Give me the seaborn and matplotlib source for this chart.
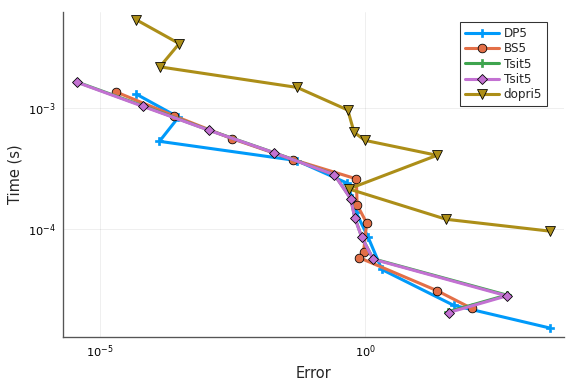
import numpy as np
import pandas as pd
import matplotlib
matplotlib.use("Agg")
import matplotlib.pyplot as plt
import seaborn as sns

# work-precision data (error, time in seconds)
dp5_err = [4.90e-5, 3.03e-4, 1.33e-4, 0.0516, 0.458, 0.569, 0.676, 1.14, 2.07, 46.6, 3069]
dp5_time = [1.30e-3, 8.38e-4, 5.30e-4, 3.67e-4, 2.39e-4, 1.79e-4, 1.37e-4, 8.53e-5, 4.61e-5, 2.33e-5, 1.51e-5]

bs5_err = [2.00e-5, 2.48e-4, 3.11e-3, 0.0440, 0.686, 0.706, 1.07, 0.938, 0.764, 22.7, 101.6]
bs5_time = [1.36e-3, 8.63e-4, 5.57e-4, 3.74e-4, 2.59e-4, 1.58e-4, 1.12e-4, 6.47e-5, 5.79e-5, 3.08e-5, 2.20e-5]

tsit5_err = [3.73e-6, 6.55e-5, 1.15e-3, 0.0190, 0.264, 0.537, 0.640, 0.867, 1.42, 469, 36.5]
tsit5_time = [1.64e-3, 1.04e-3, 6.55e-4, 4.28e-4, 2.81e-4, 1.78e-4, 1.24e-4, 8.52e-5, 5.65e-5, 2.83e-5, 2.06e-5]

tsit5b_err = [3.73e-6, 6.55e-5, 1.15e-3, 0.0190, 0.264, 0.537, 0.640, 0.867, 1.42, 469, 37.8]
tsit5b_time = [1.63e-3, 1.03e-3, 6.53e-4, 4.27e-4, 2.80e-4, 1.77e-4, 1.23e-4, 8.49e-5, 5.61e-5, 2.79e-5, 2.03e-5]

dopri5_err = [4.90e-5, 3.13e-4, 1.35e-4, 0.0522, 0.472, 0.621, 0.986, 22.7, 0.493, 33.7, 3069]
dopri5_time = [5.36e-3, 3.41e-3, 2.19e-3, 1.48e-3, 9.62e-4, 6.30e-4, 5.40e-4, 4.06e-4, 2.14e-4, 1.20e-4, 9.57e-5]

series = [
    ("DP5", dp5_err, dp5_time, "#009AFA", "P"),
    ("BS5", bs5_err, bs5_time, "#E36F47", "o"),
    ("Tsit5", tsit5_err, tsit5_time, "#3EA44E", "P"),
    ("Tsit5", tsit5b_err, tsit5b_time, "#C371D2", "D"),
    ("dopri5", dopri5_err, dopri5_time, "#AC8E18", "v"),
]

sns.set_style("white")
plt.rcParams["font.family"] = ["DejaVu Sans"]

fig = plt.figure(figsize=(6, 4), dpi=96)
ax = fig.add_axes([0.109, 0.122, 0.870, 0.847])

for name, err, t, col, mk in series:
    df = pd.DataFrame({"Error": err, "Time": t})
    if mk == "P":
        ms, mec, mew = 6, col, 0.5
    elif mk == "D":
        ms, mec, mew = 5, "black", 0.6
    elif mk == "v":
        ms, mec, mew = 7, "black", 0.6
    else:
        ms, mec, mew = 6.5, "black", 0.6
    sns.lineplot(data=df, x="Error", y="Time", sort=False, estimator=None,
                 color=col, lw=2.3, marker=mk, markersize=ms,
                 markeredgecolor=mec, markeredgewidth=mew, label=name, ax=ax)

ax.set_xscale("log")
ax.set_yscale("log")
ax.set_xlim(2.0e-6, 5.6e3)
ax.set_ylim(1.27e-5, 6.24e-3)
ax.set_xticks([1e-5, 1e0])
ax.set_xticklabels([r"$10^{-5}$", r"$10^{0}$"])
ax.set_yticks([1e-4, 1e-3])
ax.set_yticklabels([r"$10^{-4}$", r"$10^{-3}$"])
ax.minorticks_off()
ax.tick_params(axis="both", which="major", direction="in", length=4, width=0.8,
               labelsize=8.5, colors="black", pad=5)
ax.grid(True, which="major", color="black", alpha=0.08, lw=0.6)

for s in ["top", "right"]:
    ax.spines[s].set_visible(False)
for s in ["left", "bottom"]:
    ax.spines[s].set_color("#555555")
    ax.spines[s].set_linewidth(1.0)

ax.set_xlabel("Error", fontsize=11)
ax.set_ylabel("Time (s)", fontsize=11)

leg = ax.legend(loc="upper right", bbox_to_anchor=(0.966, 0.969), borderaxespad=0,
                fontsize=9, frameon=True, fancybox=False, edgecolor="black",
                handlelength=2.8, borderpad=0.4, labelspacing=0.2,
                handletextpad=0.4)
leg.get_frame().set_linewidth(0.8)

plt.savefig("out.png", dpi=96)
